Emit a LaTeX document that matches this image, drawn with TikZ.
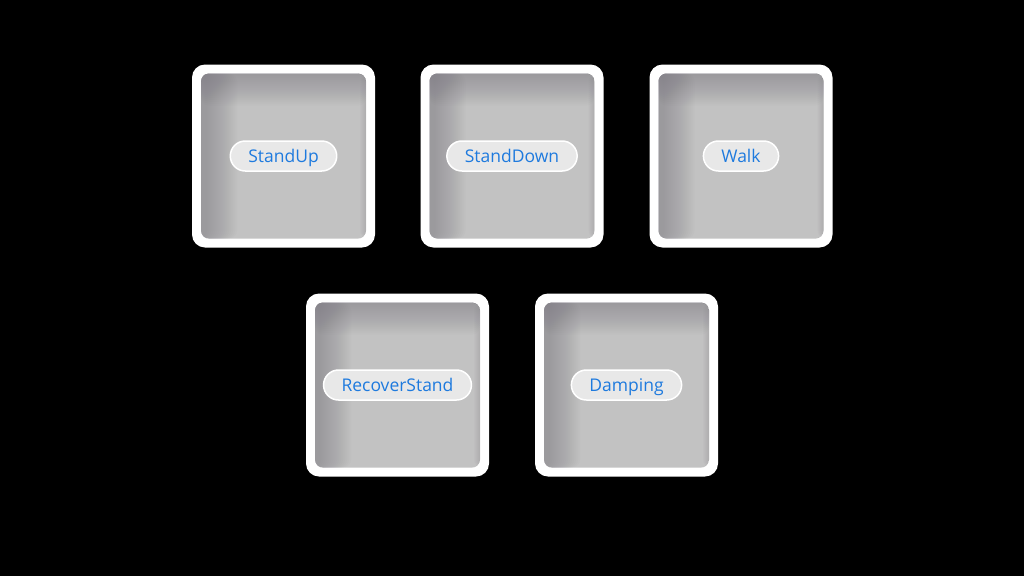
\documentclass[tikz,border=0pt]{standalone}
\usepackage{fontspec}
\setmainfont{Open Sans}
\definecolor{tilegray}{RGB}{194,194,194}
\definecolor{edgegray}{RGB}{118,114,124}
\definecolor{pillgray}{RGB}{232,232,232}
\definecolor{labelblue}{RGB}{30,122,222}

\begin{document}
\begin{tikzpicture}[x=1pt,y=-1pt,
  tile/.style={minimum size=183pt, inner sep=0pt, rounded corners=13pt, fill=white},
  well/.style={minimum size=165pt, inner sep=0pt, rounded corners=8pt, fill=tilegray,
    path picture={
      \foreach \d in {2,4,...,32}{
        \fill[edgegray, fill opacity=0.035] (path picture bounding box.north west)
          rectangle ([yshift=-\d pt]path picture bounding box.north east);
        \fill[edgegray, fill opacity=0.035] (path picture bounding box.north west)
          rectangle ([xshift=\d pt+4pt]path picture bounding box.south west);
      }
      \foreach \d in {1,2,...,6}
        \fill[edgegray, fill opacity=0.04] (path picture bounding box.north east)
          rectangle ([xshift=-\d pt]path picture bounding box.south east);
    }},
  pill/.style={minimum height=30pt, inner xsep=18pt, inner ysep=0pt, rounded corners=15pt,
    text height=16pt, text depth=3.5pt,
    fill=pillgray, draw=white, line width=1.5pt, text=labelblue,
    font=\fontsize{17.5}{20}\selectfont}]
  \fill[black] (0,0) rectangle (1024,576);
  \useasboundingbox (0,0) rectangle (1024,576);

  % top row
  \node[tile] (1) at (283.5,156) {};
  \node[tile] (2) at (512,156) {};
  \node[tile] (3) at (741,156) {};
  % bottom row
  \node[tile] (4) at (397.5,385) {};
  \node[tile] (5) at (626.5,385) {};

  \node[well] (w1) at (1) {};
  \node[well] (w2) at (2) {};
  \node[well] (w3) at (3) {};
  \node[well] (w4) at (4) {};
  \node[well] (w5) at (5) {};

  \node[pill] (standup) at (w1) {StandUp};
  \node[pill] (standdown) at (w2) {StandDown};
  \node[pill] (walk) at (w3) {Walk};
  \node[pill] (recover) at (w4) {RecoverStand};
  \node[pill] (damping) at (w5) {Damping};
\end{tikzpicture}
\end{document}
